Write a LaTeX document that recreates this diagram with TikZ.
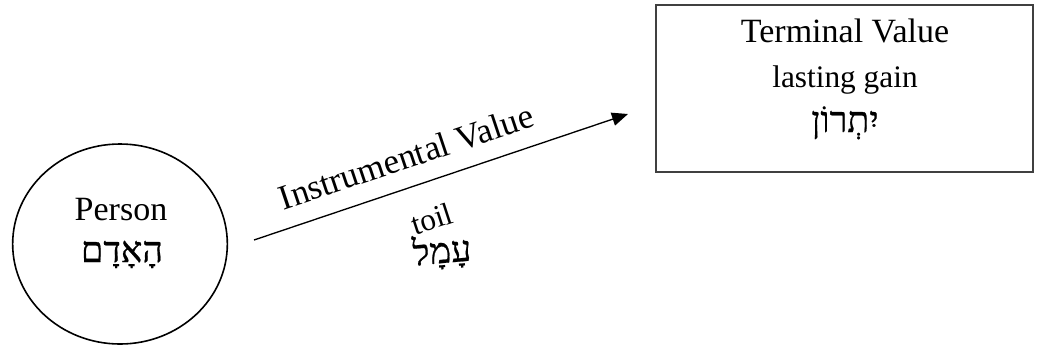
\documentclass[tikz,border=0pt]{standalone}
\usepackage{fontspec}
\setmainfont{Liberation Serif}
\newfontfamily\hebfont[Script=Hebrew,FakeBold=0.6]{Liberation Serif}
\TeXXeTstate=1
\usetikzlibrary{arrows.meta,shapes.geometric}
\tikzset{
  txt/.style={inner sep=0pt, anchor=base, text=black},
  big/.style={font=\fontsize{25.5}{30}\selectfont},
  rotbig/.style={font=\fontsize{26.3}{30}\selectfont},
  mid/.style={font=\fontsize{23.5}{28}\selectfont},
  heb/.style={font=\hebfont\fontsize{27}{30}\selectfont},
  shape line/.style={draw, line width=1.2pt, inner sep=0pt},
  conn/.style={line width=1pt, -{Triangle[length=12pt,width=10pt]}}
}
\begin{document}
\begin{tikzpicture}[x=0.75pt,y=-0.75pt]
\useasboundingbox (0,0) rectangle (1037,347);
% Person ellipse
\node[shape line, ellipse, draw=black, minimum width=161pt, minimum height=150pt] (person) at (120,244) {};
\node[txt,big] (personlbl) at (121,220) {Person};
\node[txt,heb] (adam) at (122,262) {\beginR הָאָדָם\endR};
% Terminal value box
\node[shape line, rectangle, draw=black!75, minimum width=282.75pt, minimum height=125.25pt] (tv) at (844.5,88.5) {};
\node[txt,big] (tvlbl) at (845,42) {Terminal Value};
\node[txt,mid] (gain) at (845,87) {lasting gain};
\node[txt,heb] (yitron) at (845,132) {\beginR יִתְרוֹן\endR};
% Arrow
\coordinate (a0) at (254,240);
\coordinate (a1) at (628,114);
\draw[conn] (a0) -- (a1);
\node[txt,rotbig,rotate=18.5] (instr) at (410,168) {Instrumental Value};
\node[txt,mid,rotate=18] (toil) at (435,229) {toil};
\node[txt,heb,rotate=5] (amal) at (443,263) {\beginR עָמָל\endR};
\end{tikzpicture}
\end{document}
